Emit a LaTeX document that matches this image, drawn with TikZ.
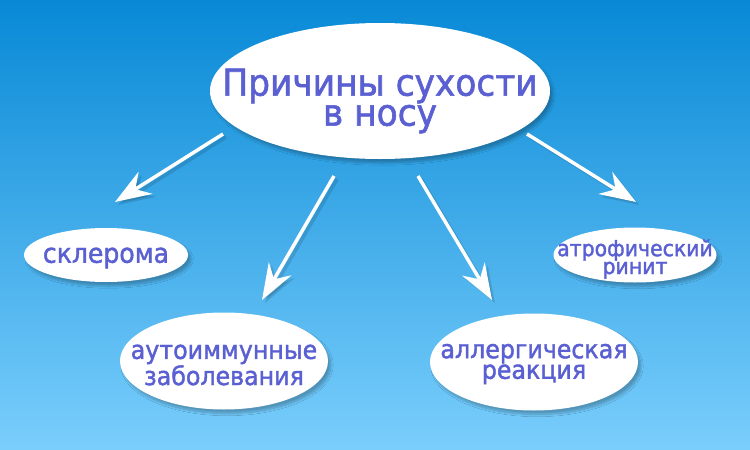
\documentclass[tikz,border=0pt]{standalone}
\usepackage{fontspec}
\setmainfont{DejaVu Sans}[FakeStretch=0.93, FakeBold=1.6]
\usetikzlibrary{arrows.meta,shapes.geometric,shadows.blur}

\definecolor{skytop}{RGB}{8,137,214}
\definecolor{skymid}{RGB}{36,166,237}
\definecolor{skybottom}{RGB}{122,206,252}
\definecolor{inkblue}{RGB}{90,96,210}

\tikzset{
  bubble/.style 2 args={ellipse, fill=white, inner sep=0pt,
    minimum width=#1, minimum height=#2,
    blur shadow={shadow xshift=3pt, shadow yshift=-4pt, shadow blur steps=10, shadow opacity=25}},
  tag/.style={text=inkblue, align=center, inner sep=0pt},
  pointer/.style={white, line width=3.5pt, -{Stealth[length=36pt, width=26pt, inset=12pt]}},
  pointer shadow/.style={black, opacity=.12, line width=3.5pt, -{Stealth[length=36pt, width=26pt, inset=12pt]}}
}

\begin{document}
\begin{tikzpicture}[x=1pt, y=-1pt]

\useasboundingbox (0,0) rectangle (750,450);
\shade[top color=skytop, middle color=skymid, bottom color=skybottom] (0,0) rectangle (750,450);

% central question
\node[bubble={340pt}{136pt}, label={[tag, yshift=-10pt, font=\fontsize{37}{30}\selectfont]center:Причины сухости\\в носу}] (main) at (380,91) {};

% causes
\node[bubble={164pt}{54pt}, label={[tag, yshift=-3pt, font=\fontsize{27}{20}\selectfont]center:склерома}] (sclera) at (106,255) {};
\node[bubble={208pt}{97pt}, label={[tag, yshift=-4pt, font=\fontsize{25.5}{20}\selectfont]center:аутоиммунные\\заболевания}] (autoimmune) at (224,361) {};
\node[bubble={208pt}{97pt}, label={[tag, yshift=-2pt, font=\fontsize{25.5}{19}\selectfont]center:аллергическая\\реакция}] (allergy) at (534,362) {};
\node[bubble={163pt}{55pt}, label={[tag, yshift=-4pt, font=\fontsize{22}{15}\selectfont]center:атрофический\\ринит}] (rhinitis) at (635,255) {};

% arrow ends
\coordinate (tail1) at (223,134); \coordinate (tip1) at (115,202);
\coordinate (tail2) at (334,176); \coordinate (tip2) at (262,300);
\coordinate (tail3) at (418,176); \coordinate (tip3) at (492,300);
\coordinate (tail4) at (527,134); \coordinate (tip4) at (636,202);

\foreach \i in {1,...,4}{
  \draw[pointer shadow] ([shift={(3,3)}]tail\i) -- ([shift={(3,3)}]tip\i);
  \draw[pointer] (tail\i) -- (tip\i);
}

\end{tikzpicture}
\end{document}
